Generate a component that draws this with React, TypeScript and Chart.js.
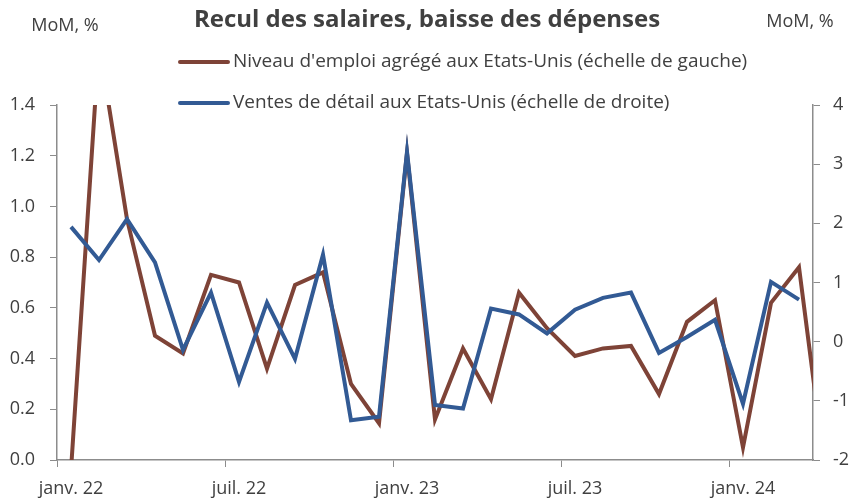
import React, { useEffect, useRef } from 'react';
import { Chart, registerables } from 'chart.js';

Chart.register(...registerables);

const FONT = '"Open Sans", "DejaVu Sans", sans-serif';
const TEXT = '#404040';
const AXIS = '#8c8c8c';
const BROWN = '#7e4337';
const BLUE = '#325a94';

const TITLE = 'Recul des salaires, baisse des dépenses';
const UNIT = 'MoM, %';
const LEGEND_EMPLOI = "Niveau d'emploi agrégé aux Etats-Unis (échelle de gauche)";
const LEGEND_VENTES = 'Ventes de détail aux Etats-Unis (échelle de droite)';

const months = [
  'janv. 22', 'févr. 22', 'mars 22', 'avr. 22', 'mai 22', 'juin 22',
  'juil. 22', 'août 22', 'sept. 22', 'oct. 22', 'nov. 22', 'déc. 22',
  'janv. 23', 'févr. 23', 'mars 23', 'avr. 23', 'mai 23', 'juin 23',
  'juil. 23', 'août 23', 'sept. 23', 'oct. 23', 'nov. 23', 'déc. 23',
  'janv. 24', 'févr. 24', 'mars 24', 'avr. 24',
];
const visibleMonths = 27; // janv. 22 .. mars 24 shown; avr. 24 runs off the edge
const labelEvery = 6;

const emploi = [
  -0.04, 1.64, 0.95, 0.49, 0.42, 0.73, 0.70, 0.36, 0.69, 0.74, 0.30, 0.145,
  1.21, 0.16, 0.44, 0.24, 0.66, 0.52, 0.41, 0.44, 0.45, 0.26, 0.545, 0.63,
  0.05, 0.62, 0.76, -0.1,
];
const ventes = [
  1.94, 1.38, 2.07, 1.34, -0.14, 0.83, -0.68, 0.66, -0.29, 1.47, -1.33, -1.27,
  3.21, -1.07, -1.13, 0.56, 0.46, 0.14, 0.54, 0.74, 0.83, -0.19, 0.08, 0.37,
  -1.05, 1.01, 0.71, null,
];

const leftTicks = { min: 0, max: 1.4, step: 0.2 };
const rightTicks = { min: -2, max: 4, step: 1 };

const overlayPlugin = {
  id: 'overlayTexts',
  afterDraw(chart: any) {
    const ctx = chart.ctx as CanvasRenderingContext2D;
    ctx.save();
    ctx.fillStyle = TEXT;
    ctx.textBaseline = 'middle';
    ctx.textAlign = 'center';
    ctx.font = `bold 24px ${FONT}`;
    ctx.fillText(TITLE, 427, 20);
    ctx.font = `18px ${FONT}`;
    ctx.fillText(UNIT, 65, 26);
    ctx.fillText(UNIT, 800, 22);
    const rows = [
      { label: LEGEND_EMPLOI, color: BROWN, y: 62 },
      { label: LEGEND_VENTES, color: BLUE, y: 103 },
    ];
    ctx.font = `19px ${FONT}`;
    ctx.textAlign = 'left';
    rows.forEach((r) => {
      ctx.strokeStyle = r.color;
      ctx.lineWidth = 4;
      ctx.lineCap = 'round';
      ctx.beginPath();
      ctx.moveTo(180, r.y);
      ctx.lineTo(228, r.y);
      ctx.stroke();
      ctx.fillText(r.label, 233, r.y);
    });
    ctx.restore();
  },
};

export default function App() {
  const ref = useRef<HTMLCanvasElement>(null);
  useEffect(() => {
    if (!ref.current) return;
    const chart = new Chart(ref.current, {
      type: 'line',
      data: {
        datasets: [
          {
            label: LEGEND_EMPLOI,
            data: emploi.map((v, i) => ({ x: i, y: v })),
            borderColor: BROWN,
            backgroundColor: BROWN,
            borderWidth: 4,
            pointRadius: 0,
            tension: 0,
            yAxisID: 'y',
            clip: 0,
            order: 1,
          },
          {
            label: LEGEND_VENTES,
            data: ventes.map((v, i) => ({ x: i, y: v })),
            borderColor: BLUE,
            backgroundColor: BLUE,
            borderWidth: 4,
            pointRadius: 0,
            tension: 0,
            yAxisID: 'y1',
            clip: 0,
            order: 0,
          },
        ],
      },
      options: {
        responsive: false,
        animation: false,
        layout: { padding: { top: 105, left: 0, right: 0, bottom: 0 } },
        plugins: {
          legend: { display: false },
          title: { display: false },
          tooltip: { enabled: false },
        },
        scales: {
          x: {
            type: 'linear',
            min: -0.5,
            max: visibleMonths - 0.5,
            afterFit: (s: any) => { s.height = 39; },
            afterBuildTicks: (s: any) => {
              const t = [];
              for (let i = 0; i < visibleMonths; i += labelEvery) t.push({ value: i - 0.5 });
              s.ticks = t;
            },
            grid: {
              drawOnChartArea: false,
              drawTicks: true,
              tickLength: 7,
              tickColor: AXIS,
            },
            border: { display: true, color: AXIS, width: 1.5 },
            ticks: {
              autoSkip: false,
              maxRotation: 0,
              padding: 11,
              labelOffset: 14,
              color: TEXT,
              font: { family: FONT, size: 18 },
              callback: (v: any) => months[Math.round(Number(v) + 0.5)],
            },
          },
          y: {
            position: 'left',
            min: leftTicks.min,
            max: leftTicks.max,
            afterFit: (s: any) => { s.width = 57; },
            grid: { drawOnChartArea: false, tickLength: 7, tickColor: AXIS },
            border: { display: true, color: AXIS, width: 1.5 },
            ticks: {
              stepSize: leftTicks.step,
              padding: 15,
              color: TEXT,
              font: { family: FONT, size: 18 },
              callback: (v: any) => Number(v).toFixed(1),
            },
          },
          y1: {
            position: 'right',
            min: rightTicks.min,
            max: rightTicks.max,
            afterFit: (s: any) => { s.width = 37; },
            grid: { drawOnChartArea: false, tickLength: 7, tickColor: AXIS },
            border: { display: true, color: AXIS, width: 1.5 },
            ticks: {
              stepSize: rightTicks.step,
              padding: 13,
              color: TEXT,
              font: { family: FONT, size: 18 },
            },
          },
        },
      },
      plugins: [overlayPlugin],
    } as any);
    return () => chart.destroy();
  }, []);
  return (
    <div style={{ position: 'absolute', left: 0, top: 0, width: 850, height: 499, background: '#fff' }}>
      <canvas ref={ref} width={850} height={499} />
    </div>
  );
}
